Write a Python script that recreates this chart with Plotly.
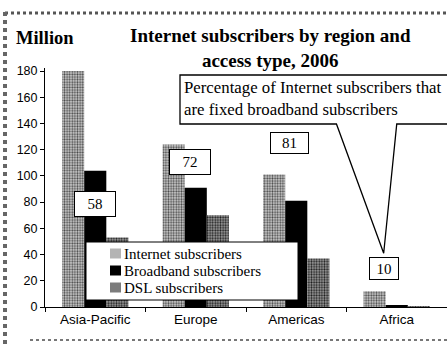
import plotly.graph_objects as go

# Data: subscribers (millions) by region and access type, 2006
regions = ["Asia-Pacific", "Europe", "Americas", "Africa"]
internet_subs = [180, 124, 101, 12]
broadband_subs = [104, 91, 81, 1.2]
dsl_subs = [53, 70, 37, 0.6]
# Percentage of Internet subscribers that are fixed broadband subscribers
fixed_bb_share = [58, 72, 81, 10]
share_label_y = [78.6, 110.6, 125, 29]

series_names = ["Internet subscribers", "Broadband subscribers", "DSL subscribers"]
y_ticks = [0, 20, 40, 60, 80, 100, 120, 140, 160, 180]

W, H = 447, 345
ML, MR, MT, MB = 45, 0, 68, 38
YMAX = 182.3
PW, PH = W - ML - MR, H - MT - MB

SERIF = "Liberation Serif, Times New Roman, serif"
SANS = "Liberation Sans, Arial, sans-serif"

# fill styles per series: (base colour, pattern background, pattern dots)
STYLES = [
    ("#b4b4b4", "#d2d2d2", "#4a4a4a"),
    ("#000000", None, None),
    ("#7c7c7c", "#a0a0a0", "#1e1e1e"),
]


def px_x(px):
    return (px - ML) / PW


def px_y(py):
    return (H - MB - py) / PH


def cat_x(i, offset=0.0):
    return (i + offset + 0.5) / len(regions)


def val_y(v):
    return v / YMAX


def bar_marker(style):
    base, bg, fg = style
    m = dict(color=base, line=dict(width=0))
    if bg is not None:
        m["pattern"] = dict(shape=".", bgcolor=bg, fgcolor=fg, size=2.6,
                            solidity=0.45, fillmode="replace")
    return m


fig = go.Figure()
for name, vals, style in zip(series_names,
                             [internet_subs, broadband_subs, dsl_subs], STYLES):
    fig.add_trace(go.Bar(name=name, x=regions, y=vals, marker=bar_marker(style),
                         showlegend=False))

annotations = []
shapes = []

# Share labels in boxes
label_xshift = [0, -6, -7, -13]
label_size = [(36, 20), (36, 20), (33, 16), (24, 17)]
for i, (r, s) in enumerate(zip(regions, fixed_bb_share)):
    w, h = label_size[i]
    annotations.append(dict(
        x=r, y=share_label_y[i], xref="x", yref="y", text=str(s),
        showarrow=False, xshift=label_xshift[i],
        font=dict(family=SERIF, size=15, color="black"),
        bgcolor="white", bordercolor="black", borderwidth=1, borderpad=2,
        width=w, height=h,
    ))

# Title and unit
annotations.append(dict(
    x=px_x(270), y=px_y(48), xref="paper", yref="paper",
    text="<b>Internet subscribers by region and<br>access type, 2006</b>",
    showarrow=False, xanchor="center", yanchor="middle",
    font=dict(family=SERIF, size=19, color="black"),
))
annotations.append(dict(
    x=px_x(14), y=px_y(38), xref="paper", yref="paper",
    text="<b>Million</b>", showarrow=False, xanchor="left", yanchor="middle",
    font=dict(family=SERIF, size=18.5, color="black"),
))
# Callout text
annotations.append(dict(
    x=px_x(182), y=px_y(98), xref="paper", yref="paper",
    text="Percentage of Internet subscribers that<br>are fixed broadband subscribers",
    showarrow=False, xanchor="left", yanchor="middle", align="left",
    font=dict(family=SERIF, size=16.8, color="black"),
))

# Callout box with pointer to the Africa label
bx0, bx1 = px_x(180), px_x(470)
by0, by1 = px_y(124), px_y(75)
tip_x = cat_x(3, -0.13)
tip_y = val_y(share_label_y[3] + 12)
open_l, open_r = cat_x(3, -0.6), cat_x(3, 0.0)
callout_path = (f"M {bx1} {by1} L {bx0} {by1} L {bx0} {by0} L {open_l} {by0} "
                f"L {tip_x} {tip_y} L {open_r} {by0} L {bx1} {by0}")
shapes += [
    dict(type="rect", xref="paper", yref="paper", x0=bx0, x1=bx1, y0=by0, y1=by1,
         fillcolor="white", line=dict(width=0), layer="above"),
    dict(type="path", xref="paper", yref="paper", path=callout_path,
         line=dict(color="black", width=1.3), layer="above"),
]

# Legend box drawn over the bars
lg_x0, lg_x1, lg_y0, lg_y1 = 86, 298, 242, 300
shapes.append(dict(type="rect", xref="paper", yref="paper",
                   x0=px_x(lg_x0), x1=px_x(lg_x1), y0=px_y(lg_y1), y1=px_y(lg_y0),
                   fillcolor="white", line=dict(color="black", width=1),
                   layer="above"))
row_y = [253.5, 270.5, 287.5]
for name, style, ry in zip(series_names, STYLES, row_y):
    base = style[0]
    shapes.append(dict(type="rect", xref="paper", yref="paper",
                       x0=px_x(110), x1=px_x(121), y0=px_y(ry + 5), y1=px_y(ry - 5),
                       fillcolor=base, line=dict(width=0), layer="above"))
    annotations.append(dict(
        x=px_x(123), y=px_y(ry), xref="paper", yref="paper", text=name,
        showarrow=False, xanchor="left", yanchor="middle", borderpad=0,
        font=dict(family=SERIF, size=15, color="black"),
    ))

# scanned page frame
shapes += [
    dict(type="line", xref="paper", yref="paper", x0=px_x(5), x1=px_x(447),
         y0=px_y(13), y1=px_y(13), line=dict(color="#555", width=3, dash="dot")),
    dict(type="line", xref="paper", yref="paper", x0=px_x(5), x1=px_x(5),
         y0=px_y(12), y1=px_y(345), line=dict(color="#666", width=4, dash="dot")),
    dict(type="line", xref="paper", yref="paper", x0=px_x(30), x1=px_x(447),
         y0=px_y(340), y1=px_y(340), line=dict(color="#777", width=2, dash="dot")),
]

fig.update_layout(
    width=W, height=H,
    margin=dict(l=ML, r=MR, t=MT, b=MB, pad=0),
    paper_bgcolor="white", plot_bgcolor="white",
    barmode="group", bargap=0.34, bargroupgap=0,
    showlegend=False,
    xaxis=dict(
        range=[-0.5, 3.5], showline=True, linecolor="black", linewidth=1,
        ticks="outside", ticklen=4, tickcolor="black", tickson="boundaries",
        showgrid=False, tickfont=dict(family=SANS, size=13.5, color="black"),
        fixedrange=True,
    ),
    yaxis=dict(
        range=[0, YMAX], tickvals=y_ticks, showline=True, linecolor="black",
        linewidth=1, ticks="outside", ticklen=4, tickcolor="black",
        showgrid=False, zeroline=False,
        tickfont=dict(family=SANS, size=12.5, color="black"),
    ),
    annotations=annotations,
    shapes=shapes,
)

fig.write_html("out.html")
